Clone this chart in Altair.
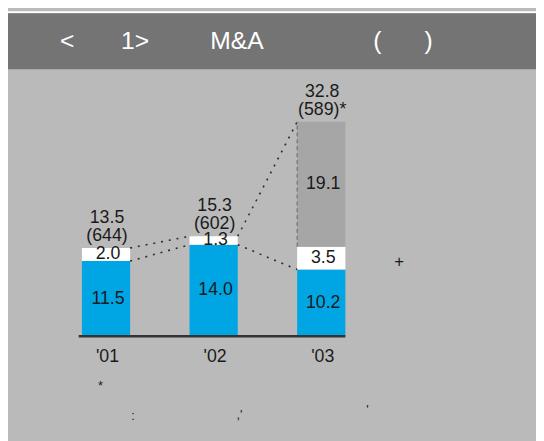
import json
import altair as alt
import pandas as pd

# ---- data ----
years = ["'01", "'02", "'03"]
blue_vals = [11.5, 14.0, 10.2]
white_vals = [2.0, 1.3, 3.5]
gray_vals = [0.0, 0.0, 19.1]
totals = [13.5, 15.3, 32.8]
counts = ["(644)", "(602)", "(589)*"]
header_tokens = ["<", "1>", "M&A", "(", ")"]
note_tokens = ["*", ":", ",'", "'"]

# ---- layout constants ----
W, H = 536, 330
HW = 0.224              # half bar width in x units
FONT = "Liberation Sans"
TXT = "#1a1a1a"
FS = 18
XSCALE = alt.Scale(domain=[-0.9108, 3.9954], range=[0, W], nice=False, zero=False)
YSCALE = alt.Scale(domain=[0, 49.7], range=[H, 0], nice=False, zero=False)
XAXIS = alt.Axis(
    values=[0, 1, 2], labelExpr=f"{json.dumps(years)}[datum.value]",
    domain=False, ticks=False, grid=False, title=None,
    labelFont=FONT, labelFontSize=FS, labelColor=TXT, labelPadding=12,
    labelOffset=1)

seg_names = ["blue", "white", "gray"]
seg_colors = ["#00A6E4", "#FFFFFF", "#A6A6A6"]

rows = []
for i in range(len(years)):
    base = 0.0
    for name, vals in zip(seg_names, [blue_vals, white_vals, gray_vals]):
        v = vals[i]
        if v > 0:
            rows.append({"i": i, "xl": i - HW, "xr": i + HW, "y0": base, "y1": base + v,
                         "mid": base + v / 2, "seg": name, "label": f"{v:.1f}"})
        base += v
segs = pd.DataFrame(rows)

tot = pd.DataFrame({"i": list(range(len(years))), "total": totals,
                    "tl": [f"{t:.1f}" for t in totals], "cl": counts})

# dotted connectors: right edge of bar k to left edge of bar k+1
conn = []
for k in range(len(years) - 1):
    conn.append({"x": k + HW, "x2": k + 1 - HW, "y": totals[k], "y2": totals[k + 1]})
    conn.append({"x": k + HW, "x2": k + 1 - HW, "y": blue_vals[k], "y2": blue_vals[k + 1]})
conn = pd.DataFrame(conn)


def x_enc(f):
    return alt.X(f, scale=XSCALE, axis=XAXIS)


def y_enc(f):
    return alt.Y(f, scale=YSCALE, axis=None)


bars = alt.Chart(segs).mark_bar().encode(
    x=x_enc("xl:Q"), x2="xr:Q",
    y=y_enc("y0:Q"), y2="y1:Q",
    color=alt.Color("seg:N", scale=alt.Scale(domain=seg_names, range=seg_colors), legend=None),
)

seg_text = alt.Chart(segs).mark_text(font=FONT, fontSize=FS, color=TXT, baseline="middle", dx=2).encode(
    x=x_enc("i:Q"), y=y_enc("mid:Q"), text="label:N")

tot_text = alt.Chart(tot).mark_text(font=FONT, fontSize=FS, color=TXT, baseline="alphabetic", dy=-25.5, dx=1).encode(
    x=x_enc("i:Q"), y=y_enc("total:Q"), text="tl:N")
cnt_text = alt.Chart(tot).mark_text(font=FONT, fontSize=FS, color=TXT, baseline="alphabetic", dy=-7, dx=1).encode(
    x=x_enc("i:Q"), y=y_enc("total:Q"), text="cl:N")

lines = alt.Chart(conn).mark_rule(color="#2a2a2a", strokeWidth=1.6, strokeDash=[2, 6]).encode(
    x=x_enc("x:Q"), x2="x2:Q", y=y_enc("y:Q"), y2="y2:Q")

edge = alt.Chart(pd.DataFrame({"x": [2 - HW], "y": [blue_vals[2] + white_vals[2]], "y2": [totals[2]]})).mark_rule(
    color="#666666", strokeWidth=1, strokeDash=[4, 3]).encode(x=x_enc("x:Q"), y=y_enc("y:Q"), y2="y2:Q")

baseline = alt.Chart(pd.DataFrame({"x": [-HW - 0.03], "x2": [2 + HW], "y": [0]})).mark_rule(
    color="#333333", strokeWidth=2.5).encode(x=x_enc("x:Q"), x2="x2:Q", y=y_enc("y:Q"))

one = pd.DataFrame({"a": [0]})
white_strip = alt.Chart(one).mark_rect(color="#FFFFFF").encode(
    x=alt.value(0), x2=alt.value(W), y=alt.value(0), y2=alt.value(2))
header = alt.Chart(one).mark_rect(color="#747474").encode(
    x=alt.value(0), x2=alt.value(W), y=alt.value(2), y2=alt.value(59))

header_x = [60, 129, 232.5, 375, 427]
header_layers = [
    alt.Chart(pd.DataFrame({"t": [tok]})).mark_text(
        font=FONT, fontSize=25, color="#FFFFFF", baseline="middle", align="center").encode(
        text="t:N", x=alt.value(px), y=alt.value(30))
    for tok, px in zip(header_tokens, header_x)
]

note_pos = [(94, 380), (127, 411), (235, 410), (365, 405)]
note_layers = [
    alt.Chart(pd.DataFrame({"t": [tok]})).mark_text(
        font=FONT, fontSize=13, color=TXT, baseline="middle", align="center").encode(
        text="t:N", x=alt.value(px), y=alt.value(py))
    for tok, (px, py) in zip(note_tokens, note_pos)
]
plus = alt.Chart(pd.DataFrame({"t": ["+"]})).mark_text(
    font=FONT, fontSize=17, color=TXT, baseline="middle", align="center").encode(
    text="t:N", x=alt.value(397), y=alt.value(255))

chart = alt.layer(
    white_strip, header, *header_layers,
    bars, edge, lines, baseline, seg_text, tot_text, cnt_text, plus, *note_layers,
).properties(
    width=W, height=H,
    autosize=alt.AutoSizeParams(type="none"),
    padding={"left": 0, "right": 0, "top": 0, "bottom": 103},
    background="#BABABA",
).configure_view(strokeWidth=0, fill=None)

chart.save("out.html", embed_options={"renderer": "svg", "actions": False})
